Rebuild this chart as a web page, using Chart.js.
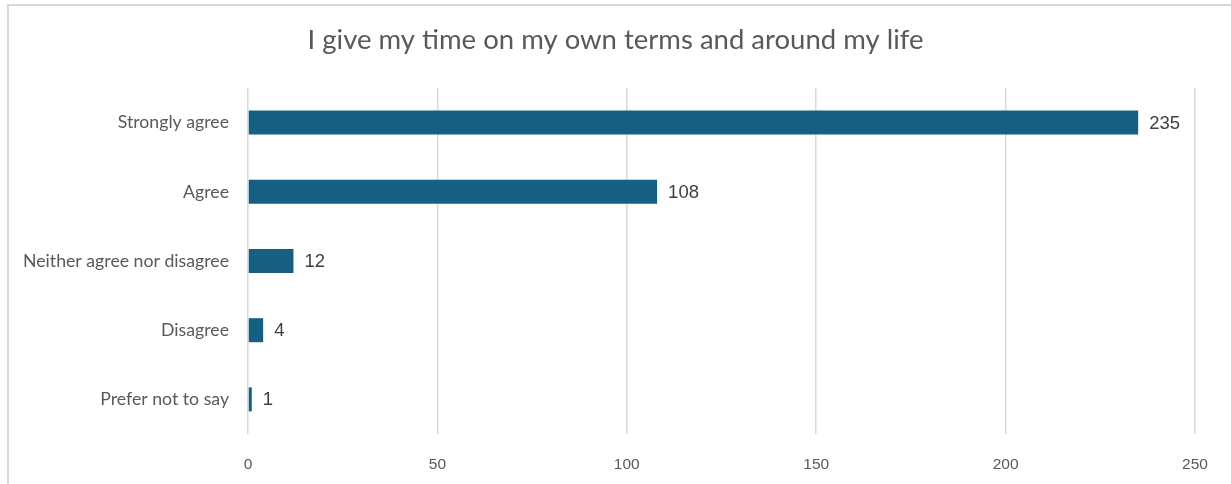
<!DOCTYPE html>
<html>
<head>
<meta charset="utf-8">
<script src="https://cdn.jsdelivr.net/npm/chart.js@4.4.1/dist/chart.umd.min.js"></script>
<style>
  html, body { margin: 0; padding: 0; background: #ffffff; overflow: hidden; }
  #frame {
    position: absolute; left: 7px; top: 4px; width: 1400px; height: 700px;
    border: 2px solid #d9d9d9; box-sizing: border-box;
  }
  #wrap { position: absolute; left: 0; top: 0; width: 1231px; height: 484px; }
</style>
</head>
<body>
<div id="frame"></div>
<div id="wrap"><canvas id="chart" width="1231" height="484"></canvas></div>
<script>
const chartTitle = 'I give my time on my own terms and around my life';
const categories = ['Strongly agree', 'Agree', 'Neither agree nor disagree', 'Disagree', 'Prefer not to say'];
const responses = [235, 108, 12, 4, 1];
const xTicks = [0, 50, 100, 150, 200, 250];

const labelFont = 'Lato, "Open Sans", sans-serif';
const numberFont = '"Liberation Sans", Arial, sans-serif';

// Center the title across the whole canvas, not just the padded box
const centerTitle = {
  id: 'centerTitle',
  afterLayout(chart) {
    const t = chart.titleBlock;
    if (t) { t.left = 0; t.right = chart.width; t.width = chart.width; }
  }
};

// Writes each bar's count just past its end
const valueLabels = {
  id: 'valueLabels',
  afterDatasetsDraw(chart) {
    const ctx = chart.ctx;
    const meta = chart.getDatasetMeta(0);
    ctx.save();
    ctx.font = '18.5px ' + numberFont;
    ctx.fillStyle = '#404040';
    ctx.textAlign = 'left';
    ctx.textBaseline = 'middle';
    meta.data.forEach((bar, i) => {
      ctx.fillText(String(responses[i]), bar.x + 11, bar.y + 1);
    });
    ctx.restore();
  }
};

new Chart(document.getElementById('chart'), {
  type: 'bar',
  data: {
    labels: categories,
    datasets: [{
      data: responses,
      backgroundColor: '#156082',
      borderWidth: 0,
      categoryPercentage: 1,
      barPercentage: 0.347
    }]
  },
  options: {
    indexAxis: 'y',
    responsive: false,
    animation: false,
    layout: { padding: { left: 0, right: 36, top: 0, bottom: 0 } },
    plugins: {
      legend: { display: false },
      tooltip: { enabled: false },
      title: {
        display: true,
        text: chartTitle,
        color: '#595959',
        font: { family: labelFont, size: 27.5, weight: 'normal', lineHeight: 1.2 },
        padding: { top: 24, bottom: 31 }
      }
    },
    scales: {
      x: {
        type: 'linear',
        min: xTicks[0],
        max: xTicks[xTicks.length - 1],
        afterBuildTicks(scale) { scale.ticks = xTicks.map(v => ({ value: v })); },
        afterFit(scale) { scale.height = 50; },
        border: { display: false },
        grid: { color: '#d9d9d9', lineWidth: 1.5, drawTicks: false },
        ticks: {
          color: '#595959',
          padding: 21,
          font: { family: numberFont, size: 15.5 }
        }
      },
      y: {
        afterFit(scale) { scale.width = 248; },
        border: { display: false },
        grid: { display: false, drawTicks: false },
        ticks: {
          color: '#595959',
          padding: 19,
          font: { family: labelFont, size: 17.7 }
        }
      }
    }
  },
  plugins: [centerTitle, valueLabels]
});
</script>
</body>
</html>
